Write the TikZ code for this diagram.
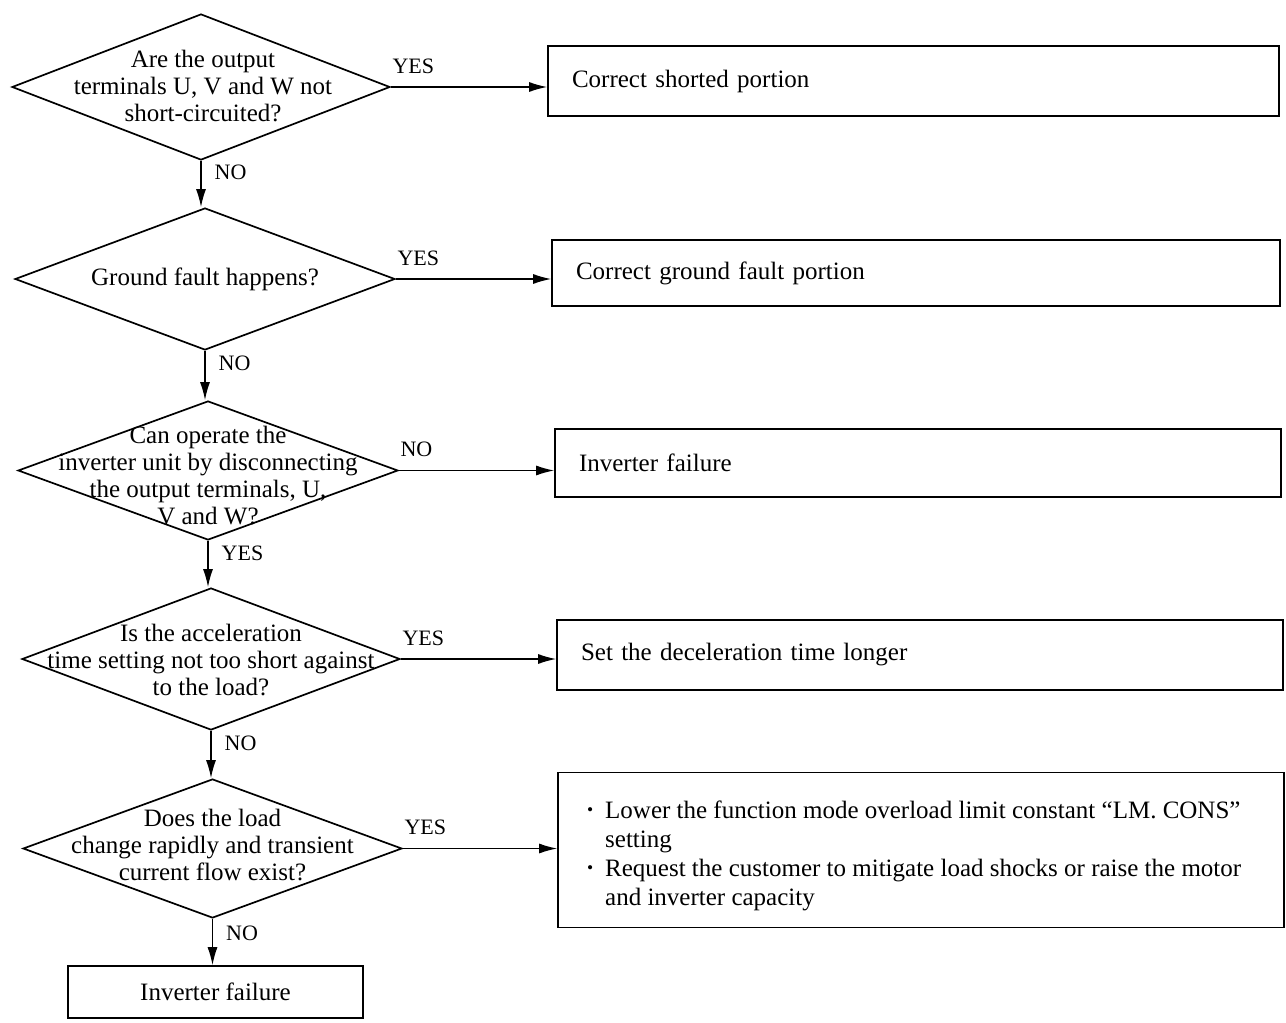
\documentclass[tikz,border=0pt]{standalone}
\usepackage{fontspec}
\setmainfont{Liberation Serif}
\usetikzlibrary{arrows.meta,shapes.geometric}
\begin{document}
\begin{tikzpicture}[x=1pt,y=-1pt,
  dec/.style={diamond, draw, line width=1.7pt, inner sep=0pt},
  qtext/.style={align=center, font=\fontsize{25}{27}\selectfont, inner sep=0pt},
  act/.style={draw, line width=1.6pt, inner ysep=0pt, inner xsep=24pt, align=left,
    font=\fontsize{25}{29}\selectfont},
  lbl/.style={font=\fontsize{22}{24}\selectfont, inner sep=1pt},
  arr/.style={line width=1.4pt, -{Latex[length=18pt,width=10pt]}}]
\fill[white] (0,0) rectangle (1286,1023);
\useasboundingbox (0,0) rectangle (1286,1023);

% decisions
\node[dec, minimum width=378pt, minimum height=146pt] (d1) at (201,87) {};
\node[qtext] (t1) at (203,86) {Are the output\\terminals U, V and W not\\short-circuited?};
\node[dec, minimum width=380pt, minimum height=142pt] (d2) at (205,279) {};
\node[qtext] (t2) at (205,279) {Ground fault happens?};
\node[dec, minimum width=380pt, minimum height=139pt] (d3) at (208,470.5) {};
\node[qtext] (t3) at (208,476) {Can operate the\\inverter unit by disconnecting\\the output terminals, U,\\V and W?};
\node[dec, minimum width=378pt, minimum height=142pt] (d4) at (211,659) {};
\node[qtext] (t4) at (211,660) {Is the acceleration\\time setting not too short against\\to the load?};
\node[dec, minimum width=379pt, minimum height=139pt] (d5) at (212.5,848.5) {};
\node[qtext] (t5) at (212.5,845) {Does the load\\change rapidly and transient\\current flow exist?};

% actions
\node[act, text width=683pt, minimum height=70pt] (b1) at (913.5,81) {Correct shorted portion};
\node[act, text width=680pt, minimum height=66pt] (b2) at (916,273) {Correct ground fault portion};
\node[act, text width=678pt, minimum height=68pt] (b3) at (918,463) {Inverter failure};
\node[act, text width=678pt, minimum height=70pt] (b4) at (920,655) {Set the deceleration time longer};
\node[act, minimum width=726pt, minimum height=155pt] (b5) at (921,850) {};
\node[anchor=west, inner sep=0pt, font=\fontsize{25}{29}\selectfont] (b5t) at (587,856) {%
  \begin{tabular}{@{}p{10pt}@{\hspace{8pt}}l@{}}
  \raisebox{3pt}{\scalebox{0.7}{\textbullet}} & Lower the function mode overload limit constant ``LM. CONS''\\
   & setting\\
  \raisebox{3pt}{\scalebox{0.7}{\textbullet}} & Request the customer to mitigate load shocks or raise the motor\\
   & and inverter capacity
  \end{tabular}};
\node[act, inner xsep=0pt, align=center, minimum width=295pt, minimum height=52pt] (b6) at (215.5,992) {Inverter failure};

% horizontal connectors
\draw[arr] (d1.east) -- node[lbl, pos=0, anchor=south west, yshift=12pt] {YES} (d1.east -| b1.west);
\draw[arr] (d2.east) -- node[lbl, pos=0, anchor=south west, yshift=12pt] {YES} (d2.east -| b2.west);
\draw[arr] (d3.east) -- node[lbl, pos=0, anchor=south west, yshift=12pt] {NO} (d3.east -| b3.west);
\draw[arr] (d4.east) -- node[lbl, pos=0, anchor=south west, yshift=12pt] {YES} (d4.east -| b4.west);
\draw[arr] (d5.east) -- node[lbl, pos=0, anchor=south west, yshift=12pt] {YES} (d5.east -| b5.west);

% vertical connectors
\draw[arr] (d1.south) -- node[lbl, pos=0.25, anchor=west, xshift=12pt] {NO} (d1.south |- d2.north);
\draw[arr] (d2.south) -- node[lbl, pos=0.25, anchor=west, xshift=12pt] {NO} (d2.south |- d3.north);
\draw[arr] (d3.south) -- node[lbl, pos=0.27, anchor=west, xshift=12pt] {YES} (d3.south |- d4.north);
\draw[arr] (d4.south) -- node[lbl, pos=0.27, anchor=west, xshift=12pt] {NO} (d4.south |- d5.north);
\draw[arr] (d5.south) -- node[lbl, pos=0.31, anchor=west, xshift=12pt] {NO} (d5.south |- b6.north);
\end{tikzpicture}
\end{document}
